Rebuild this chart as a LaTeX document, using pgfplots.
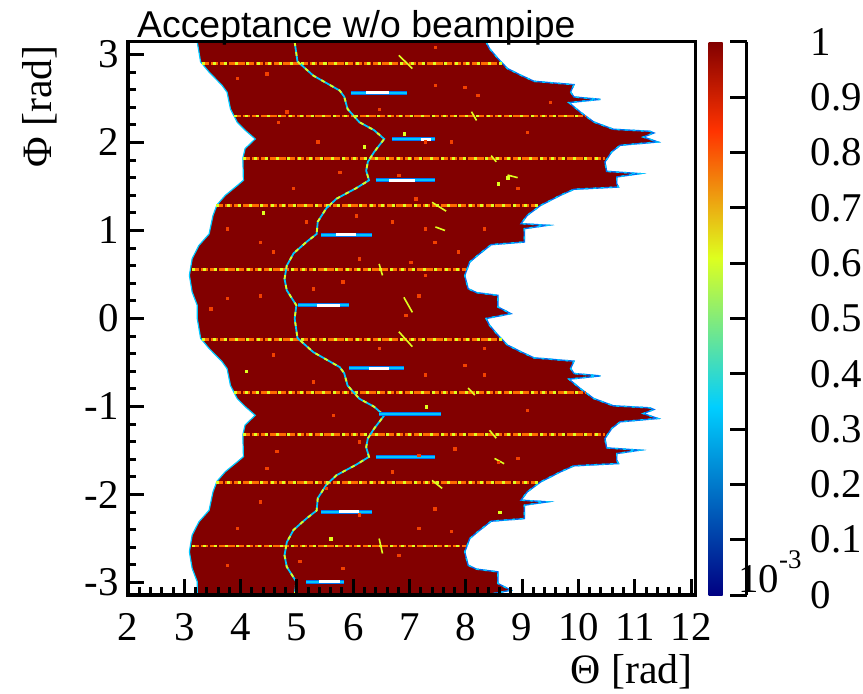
\documentclass[border=0pt]{standalone}
\usepackage{fontspec}
\setmainfont{Liberation Serif}
\newfontfamily\rs{Liberation Serif}
\newfontfamily\titlefont{Liberation Sans}
\usepackage{pgfplots}
\pgfplotsset{compat=1.18}
\usepackage{pgfplotstable}
\usepgfplotslibrary{fillbetween}

\definecolor{hred}{rgb}{0.51,0,0}
\definecolor{rorange}{rgb}{1,0.42,0}
\definecolor{ryellow}{rgb}{0.87,1,0.12}
\definecolor{rcyan}{rgb}{0,0.78,1}
\definecolor{rblue}{rgb}{0,0.45,0.95}
\definecolor{rdot}{rgb}{0.95,0.25,0}

% left edge of the acceptance (Theta, Phi), top to bottom
\pgfplotstableread{
t p
3.23 3.1416
3.29 2.915
3.44 2.80
3.67 2.65
3.76 2.57
3.82 2.38
3.94 2.23
4.08 2.14
4.26 2.04
4.08 1.93
4.04 1.82
4.05 1.57
3.94 1.51
3.73 1.40
3.58 1.29
3.51 1.17
3.44 0.96
3.26 0.83
3.14 0.68
3.09 0.49
3.14 0.30
3.23 0.15
3.23 0.00
3.29 -0.225
3.44 -0.34
3.67 -0.49
3.76 -0.57
3.82 -0.76
3.94 -0.91
4.08 -1.00
4.26 -1.10
4.08 -1.21
4.04 -1.32
4.05 -1.57
3.94 -1.63
3.73 -1.74
3.58 -1.85
3.51 -1.97
3.44 -2.18
3.26 -2.31
3.14 -2.46
3.09 -2.65
3.14 -2.84
3.23 -2.99
3.23 -3.1416
}\leftb

% right edge, top to bottom
\pgfplotstableread{
t p
8.36 3.1416
8.42 3.066
8.57 2.953
8.74 2.839
8.98 2.763
9.21 2.695
9.92 2.657
9.86 2.574
9.92 2.517
10.39 2.490
9.83 2.453
10.03 2.347
10.27 2.233
10.62 2.150
11.27 2.127
11.34 2.108
11.15 2.062
11.41 2.006
10.74 1.968
10.59 1.892
10.47 1.778
10.50 1.672
11.09 1.646
10.68 1.608
10.68 1.532
10.71 1.494
9.92 1.468
9.68 1.400
9.33 1.286
9.09 1.172
8.98 1.078
9.45 1.059
9.04 1.021
9.04 0.869
8.45 0.839
8.21 0.718
8.07 0.642
7.98 0.490
8.04 0.339
8.19 0.294
8.57 0.263
8.57 0.131
8.80 0.055
8.36 0.000
8.42 -0.076
8.57 -0.189
8.74 -0.303
8.98 -0.379
9.21 -0.447
9.92 -0.485
9.86 -0.568
9.92 -0.625
10.39 -0.652
9.83 -0.689
10.03 -0.795
10.27 -0.909
10.62 -0.992
11.27 -1.015
11.34 -1.034
11.15 -1.080
11.41 -1.136
10.74 -1.174
10.59 -1.250
10.47 -1.364
10.50 -1.470
11.09 -1.496
10.68 -1.534
10.68 -1.610
10.71 -1.648
9.92 -1.674
9.68 -1.742
9.33 -1.856
9.09 -1.970
8.98 -2.064
9.45 -2.083
9.04 -2.121
9.04 -2.273
8.45 -2.303
8.21 -2.424
8.07 -2.500
7.98 -2.652
8.04 -2.803
8.19 -2.848
8.57 -2.879
8.57 -3.011
8.80 -3.087
8.36 -3.1416
}\rightb

% the thin wavy line
\pgfplotstableread{
t p
4.96 3.1416
5.01 2.92
5.29 2.76
5.76 2.59
5.84 2.52
5.90 2.38
6.11 2.23
6.37 2.14
6.55 2.04
6.37 1.89
6.26 1.78
6.23 1.68
6.28 1.57
6.05 1.48
5.70 1.36
5.52 1.25
5.37 1.10
5.35 0.96
5.17 0.87
4.94 0.74
4.82 0.60
4.78 0.45
4.82 0.32
4.99 0.15
4.96 0.00
5.01 -0.222
5.29 -0.382
5.76 -0.552
5.84 -0.622
5.90 -0.762
6.11 -0.912
6.37 -1.002
6.55 -1.102
6.37 -1.252
6.26 -1.362
6.23 -1.462
6.28 -1.572
6.05 -1.662
5.70 -1.782
5.52 -1.892
5.37 -2.042
5.35 -2.182
5.17 -2.272
4.94 -2.402
4.82 -2.542
4.78 -2.692
4.82 -2.822
4.99 -2.992
4.96 -3.1416
}\curve

\begin{document}
\begin{tikzpicture}
\begin{axis}[
  name=main,
  scale only axis, width=567bp, height=553bp,
  xmin=2, xmax=12.07, ymin=-3.1416, ymax=3.1416,
  axis on top,
  axis line style={line width=3bp},
  tick style={line width=3bp, black},
  major tick length=16bp, minor tick length=8bp,
  tick align=inside, tick pos=left,
  xtick={2,3,4,5,6,7,8,9,10,11,12},
  xticklabels={2,3,4,5,6,7,8,9,10,11,12},
  ytick={-3,-2,-1,0,1,2,3},
  yticklabels={-3,-2,-1,0,1,2,3},
  minor x tick num=4, minor y tick num=4,
  tick label style={font=\rs\fontsize{41}{41}\selectfont, inner sep=0pt},
  xticklabel style={anchor=base, yshift=-45bp},
  yticklabel style={anchor=east, xshift=-9bp},
  colormap={rootpal}{rgb(0pt)=(0,0,0.51) rgb(34pt)=(0,0.81,1) rgb(61pt)=(0.87,1,0.12) rgb(84pt)=(1,0.2,0) rgb(100pt)=(0.51,0,0)},
  point meta min=0, point meta max=1,
  colorbar,
  colorbar style={
    at={(parent axis.north east)}, anchor=north west, xshift=5bp,
    scale only axis, width=38bp, height=553bp,
    hide x axis, axis y line*=right,
    axis line style={line width=3bp},
    tick style={line width=3bp, black},
    tick align=inside, major tick length=17bp,
    ytick={0,0.1,0.2,0.3,0.4,0.5,0.6,0.7,0.8,0.9,1},
    yticklabels={0,0.1,0.2,0.3,0.4,0.5,0.6,0.7,0.8,0.9,1},
    yticklabel style={font=\rs\fontsize{41}{41}\selectfont, inner sep=0pt, anchor=west, xshift=64bp},
  },
  stripe/.style={rorange, line width=2.8bp, dash pattern=on 7bp off 2bp,
    postaction={draw, ryellow, line width=2.8bp, dash pattern=on 3bp off 8bp}},
  hole/.style={rblue, line width=4bp, postaction={draw, rcyan, line width=2.2bp}},
  seg/.style={ryellow, line width=1.6bp},
]
\addplot[draw=none, name path=L] table {\leftb};
\addplot[draw=none, name path=R] table {\rightb};
\addplot[hred] fill between[of=L and R];
\addplot[rcyan, line width=1.2bp] table {\leftb};
\addplot[rblue, line width=1.4bp, postaction={draw, rcyan, line width=1.4bp, dash pattern=on 3bp off 5bp}] table {\rightb};

% stripes of lower acceptance
\addplot[stripe] coordinates {(3.32,2.90) (8.65,2.90)};
\addplot[stripe] coordinates {(3.88,2.30) (10.12,2.30)};
\addplot[stripe] coordinates {(4.05,1.82) (10.47,1.82)};
\addplot[stripe] coordinates {(3.57,1.28) (9.30,1.28)};
\addplot[stripe] coordinates {(3.14,0.555) (8.01,0.555)};
\addplot[stripe] coordinates {(3.32,-0.24) (8.65,-0.24)};
\addplot[stripe] coordinates {(3.88,-0.84) (10.12,-0.84)};
\addplot[stripe] coordinates {(4.05,-1.32) (10.47,-1.32)};
\addplot[stripe] coordinates {(3.57,-1.86) (9.30,-1.86)};
\addplot[stripe] coordinates {(3.14,-2.585) (8.01,-2.585)};

% wavy line
\addplot[rcyan, line width=1.8bp, postaction={draw, ryellow, line width=1.8bp, dash pattern=on 4bp off 6bp}] table {\curve};

% short segments
\addplot[seg] coordinates {(6.81,2.99) (7.05,2.84)};
\addplot[seg] coordinates {(7.40,1.32) (7.65,1.22)};
\addplot[seg] coordinates {(7.46,1.04) (7.63,1.00)};
\addplot[seg] coordinates {(6.46,0.62) (6.52,0.49)};
\addplot[seg] coordinates {(6.90,0.24) (7.05,0.07)};
\addplot[seg] coordinates {(8.10,2.35) (8.19,2.25)};
\addplot[seg] coordinates {(8.45,1.85) (8.54,1.78)};
\addplot[seg] coordinates {(8.74,1.63) (8.92,1.60)};
\addplot[seg] coordinates {(6.81,-0.15) (7.05,-0.32)};
\addplot[seg] coordinates {(7.40,-1.84) (7.58,-1.93)};
\addplot[seg] coordinates {(6.46,-2.50) (6.52,-2.67)};
\addplot[seg] coordinates {(8.04,-0.79) (8.16,-0.87)};
\addplot[seg] coordinates {(8.42,-1.27) (8.54,-1.36)};
\addplot[seg] coordinates {(8.51,-1.59) (8.68,-1.65)};

% scattered low bins
\addplot[only marks, mark=square*, mark size=1.2bp, rdot] coordinates {
(3.94,2.73) (4.46,2.78) (7.46,3.08) (4.67,2.23) (5.37,2.01) (5.76,1.66)
(6.81,1.63) (7.11,1.36) (5.17,1.10) (6.05,1.17) (6.69,1.10) (4.35,0.87)
(4.58,0.76) (6.11,0.68) (7.02,0.64) (7.16,0.26) (3.76,0.23) (4.35,0.26)
(5.29,0.34) (5.81,0.42) (6.93,0.04) (3.47,0.11) (4.82,2.35) (6.46,2.38)
(7.28,2.01) (7.46,2.65) (4.93,1.48) (7.28,1.02) (3.76,1.02)
(4.58,-0.41) (5.29,-0.72) (5.64,-1.10) (4.64,-1.51) (6.69,-1.74) (5.52,-1.93)
(4.35,-2.08) (6.11,-2.23) (7.16,-2.38) (3.94,-2.38) (5.05,-2.76) (5.81,-2.84)
(6.81,-2.69) (3.76,-2.80) (7.28,-0.64) (6.46,-0.34) (4.46,-1.70) (7.16,-1.55)
(6.11,-1.40) (7.98,2.63) (7.74,2.01) (9.09,2.12) (8.33,1.02) (7.45,0.87)
(9.50,2.46) (8.21,2.54) (8.92,1.48) (7.86,0.76) (7.28,0.49) (7.98,-0.53)
(8.33,-0.64) (9.09,-1.04) (8.57,-1.63) (7.80,-1.48) (7.45,-2.16) (7.74,-2.42)
(8.92,-1.59) (8.33,-0.34)
};
\addplot[only marks, mark=square*, mark size=1.2bp, ryellow] coordinates {
(8.74,1.60) (8.57,1.53) (5.50,2.90) (6.20,1.95) (4.40,1.20) (7.30,-1.00)
(5.60,-2.50) (8.60,-2.20) (6.90,2.10) (4.10,-0.60)
};

% holes
\addplot[hole] coordinates {(5.96,2.566) (6.96,2.566)};
\addplot[hole] coordinates {(6.69,2.036) (7.46,2.036)};
\addplot[hole] coordinates {(6.40,1.570) (7.46,1.570)};
\addplot[hole] coordinates {(5.43,0.953) (6.34,0.953)};
\addplot[hole] coordinates {(5.02,0.150) (5.93,0.150)};
\addplot[hole] coordinates {(5.93,-0.566) (6.90,-0.566)};
\addplot[hole] coordinates {(6.46,-1.089) (7.55,-1.089)};
\addplot[hole] coordinates {(6.40,-1.570) (7.46,-1.570)};
\addplot[hole] coordinates {(5.43,-2.195) (6.34,-2.195)};
\addplot[hole] coordinates {(5.17,-2.990) (5.84,-2.990)};
\addplot[white, line width=3bp] coordinates {(6.23,2.566) (6.64,2.566)};
\addplot[white, line width=2.5bp] coordinates {(7.20,2.036) (7.38,2.036)};
\addplot[white, line width=2.5bp] coordinates {(6.64,1.570) (7.10,1.570)};
\addplot[white, line width=3bp] coordinates {(5.70,0.953) (6.05,0.953)};
\addplot[white, line width=3bp] coordinates {(5.35,0.150) (5.76,0.150)};
\addplot[white, line width=3bp] coordinates {(6.28,-0.566) (6.64,-0.566)};
\addplot[white, line width=3bp] coordinates {(5.75,-2.195) (6.10,-2.195)};
\addplot[white, line width=3bp] coordinates {(5.40,-2.990) (5.76,-2.990)};
\end{axis}
\node[font=\titlefont\fontsize{37.5}{37.5}\selectfont, anchor=base west, inner sep=0pt]
  at ([xshift=9bp,yshift=4.5bp]main.north west) {Acceptance w/o beampipe};
\node[font=\rs\fontsize{42}{42}\selectfont, rotate=90, anchor=base east, inner sep=0pt]
  at ([xshift=-76bp,yshift=-3bp]main.north west) {Φ [rad]};
\node[font=\rs\fontsize{42}{42}\selectfont, anchor=base east, inner sep=0pt]
  at ([xshift=-2bp,yshift=-88bp]main.south east) {Θ [rad]};
\node[font=\rs\fontsize{41}{41}\selectfont, anchor=base west, inner sep=0pt]
  at ([xshift=43bp,yshift=3bp]main.south east) {10\raisebox{24bp}{\fontsize{27}{27}\selectfont -3}};
\pgfresetboundingbox
\path[use as bounding box] ([xshift=-128bp,yshift=-99bp]main.south west) rectangle ([xshift=168bp,yshift=42bp]main.north east);
\end{tikzpicture}
\end{document}
